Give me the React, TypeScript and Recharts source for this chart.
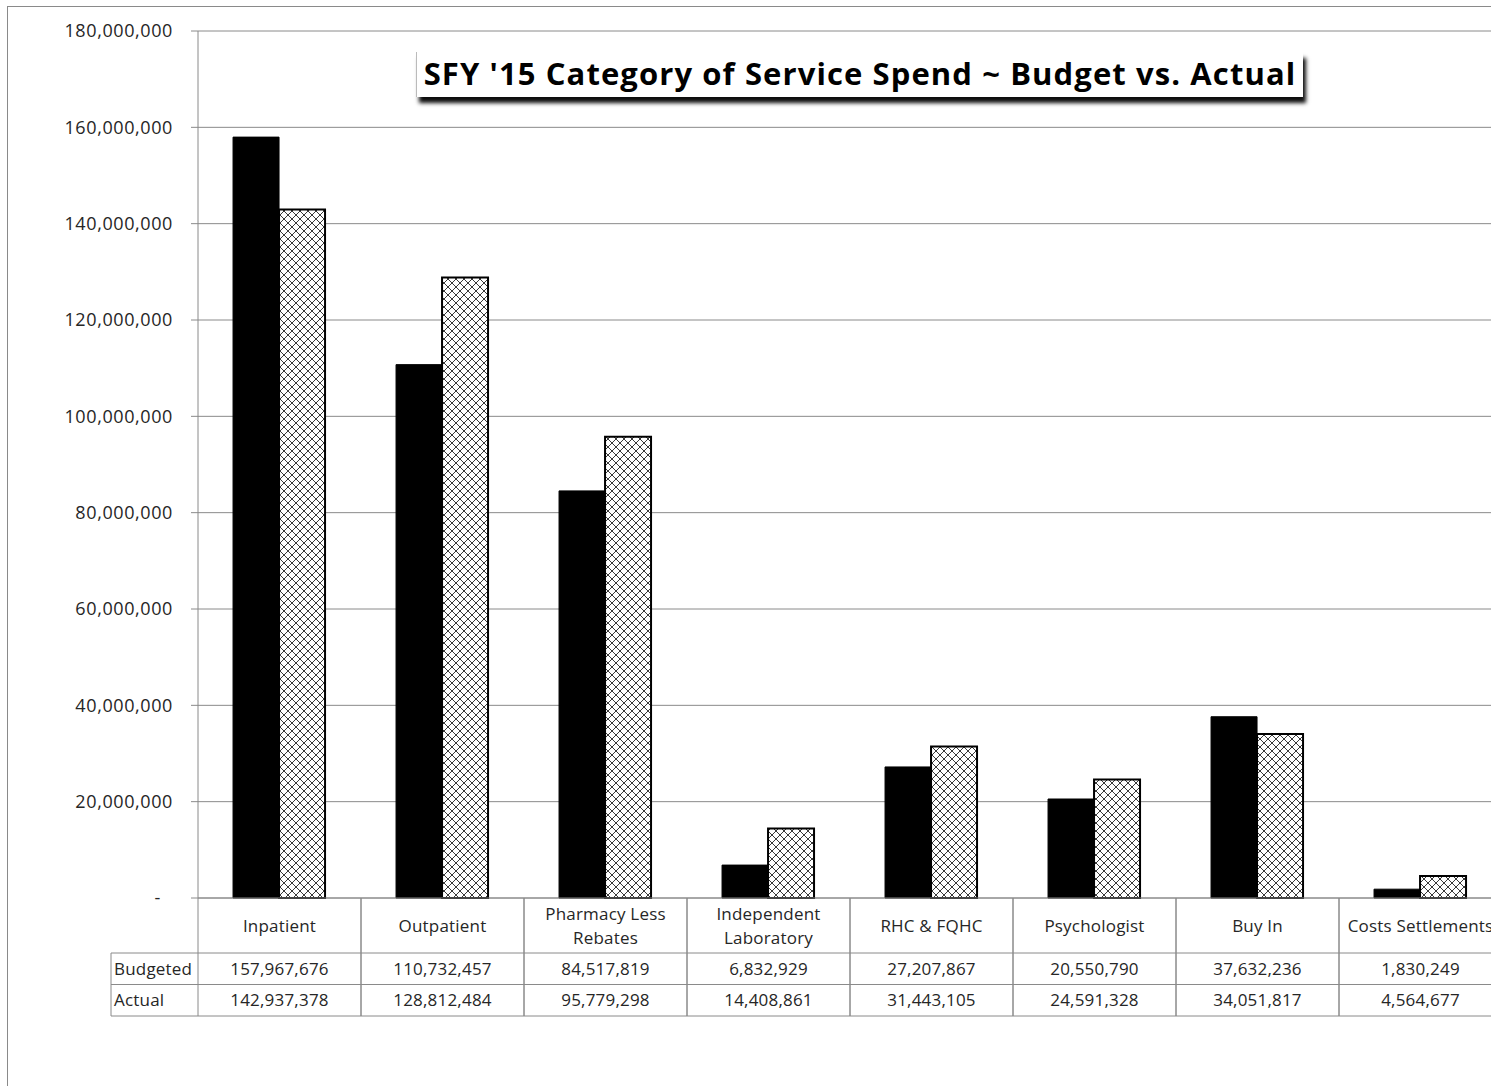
import { Bar, BarChart, CartesianGrid, XAxis, YAxis } from "recharts"

const CATEGORIES = [
  "Inpatient",
  "Outpatient",
  "Pharmacy Less Rebates",
  "Independent Laboratory",
  "RHC & FQHC",
  "Psychologist",
  "Buy In",
  "Costs Settlements",
]
const LABEL_LINES = [
  ["Inpatient"],
  ["Outpatient"],
  ["Pharmacy Less", "Rebates"],
  ["Independent", "Laboratory"],
  ["RHC & FQHC"],
  ["Psychologist"],
  ["Buy In"],
  ["Costs Settlements"],
]
const BUDGETED = [157967676, 110732457, 84517819, 6832929, 27207867, 20550790, 37632236, 1830249]
const ACTUAL = [142937378, 128812484, 95779298, 14408861, 31443105, 24591328, 34051817, 4564677]
const Y_TICKS = [0, 20000000, 40000000, 60000000, 80000000, 100000000, 120000000, 140000000, 160000000, 180000000]
const ROW_LABELS = ["Budgeted", "Actual"]
const TITLE = "SFY '15 Category of Service Spend ~ Budget vs. Actual"

const FONT = "'Open Sans', Lato, sans-serif"
const GRID = "#8a8a8a"
const PLOT_W = 1304
const CELL_W = PLOT_W / CATEGORIES.length
const HEAD_H = 55
const ROW_H = 31.5

const data = CATEGORIES.map((name, i) => ({
  name,
  Budgeted: BUDGETED[i],
  Actual: ACTUAL[i],
}))

const fmt = (v: number) => v.toLocaleString("en-US")

function YTick({ x, y, payload }: any) {
  const v = payload.value as number
  return (
    <text
      x={v === 0 ? x - 12 : x}
      y={y}
      dy="0.36em"
      textAnchor="end"
      fontSize={18}
      letterSpacing={0.6}
      fill="#262626"
      fontFamily={FONT}
    >
      {v === 0 ? "-" : fmt(v)}
    </text>
  )
}

function TableTick({ x, y, index }: any) {
  const left = x - CELL_W / 2
  const right = x + CELL_W / 2
  const lines = LABEL_LINES[index]
  const headMid = y + HEAD_H / 2
  const vals = [BUDGETED[index], ACTUAL[index]]
  return (
    <g fontFamily={FONT} fontSize={17} letterSpacing={0.2} fill="#262626">
      <line x1={left} y1={y} x2={left} y2={y + HEAD_H + 2 * ROW_H} stroke={GRID} />
      <line x1={right} y1={y} x2={right} y2={y + HEAD_H + 2 * ROW_H} stroke={GRID} />
      {[0, 1, 2].map((r) => (
        <line
          key={r}
          x1={left}
          x2={right}
          y1={y + HEAD_H + r * ROW_H}
          y2={y + HEAD_H + r * ROW_H}
          stroke={GRID}
        />
      ))}
      {lines.map((l, k) => (
        <text
          key={l}
          x={x}
          y={headMid + (k - (lines.length - 1) / 2) * 24}
          dy="0.36em"
          textAnchor="middle"
        >
          {l}
        </text>
      ))}
      {vals.map((v, r) => (
        <text key={r} x={x} y={y + HEAD_H + r * ROW_H + ROW_H / 2} dy="0.36em" textAnchor="middle">
          {fmt(v)}
        </text>
      ))}
      {index === 0 && (
        <g>
          <line x1={left - 87} x2={left} y1={y + HEAD_H} y2={y + HEAD_H} stroke={GRID} />
          <line x1={left - 87} x2={left} y1={y + HEAD_H + ROW_H} y2={y + HEAD_H + ROW_H} stroke={GRID} />
          <line x1={left - 87} x2={left} y1={y + HEAD_H + 2 * ROW_H} y2={y + HEAD_H + 2 * ROW_H} stroke={GRID} />
          <line x1={left - 87} x2={left - 87} y1={y + HEAD_H} y2={y + HEAD_H + 2 * ROW_H} stroke={GRID} />
          {ROW_LABELS.map((l, r) => (
            <text key={l} x={left - 84} y={y + HEAD_H + r * ROW_H + ROW_H / 2} dy="0.36em">
              {l}
            </text>
          ))}
        </g>
      )}
    </g>
  )
}

export default function App() {
  return (
    <div
      style={{
        position: "fixed",
        left: 7,
        top: 6,
        width: 1484,
        height: 1080,
        overflow: "hidden",
        borderTop: `1px solid ${GRID}`,
        borderLeft: `1px solid ${GRID}`,
        background: "#fff",
      }}
    >
      <BarChart
        width={1500}
        height={1021}
        data={data}
        margin={{ top: 24, right: 6, bottom: 0, left: 0 }}
        barCategoryGap="21.5%"
        barGap={0}
      >
        <defs>
          <pattern id="cross" width={8} height={8} patternUnits="userSpaceOnUse">
            <rect width={8} height={8} fill="#fff" />
            <path d="M0,0 L8,8 M8,0 L0,8" stroke="#3a3a3a" strokeWidth={1} />
          </pattern>
        </defs>
        <CartesianGrid vertical={false} stroke={GRID} />
        <XAxis
          dataKey="name"
          height={130}
          interval={0}
          tickLine={false}
          tickSize={0}
          tickMargin={0}
          axisLine={{ stroke: GRID }}
          tick={<TableTick />}
        />
        <YAxis
          width={190}
          domain={[0, 180000000]}
          ticks={Y_TICKS}
          tickSize={7}
          tickMargin={18}
          tickLine={{ stroke: GRID }}
          axisLine={{ stroke: GRID }}
          tick={<YTick />}
        />
        <Bar dataKey="Budgeted" fill="#000" stroke="#000" strokeWidth={1} isAnimationActive={false} />
        <Bar dataKey="Actual" fill="url(#cross)" stroke="#000" strokeWidth={2} isAnimationActive={false} />
      </BarChart>
      <div
        style={{
          position: "absolute",
          left: 408,
          top: 45,
          width: 887,
          height: 45,
          paddingBottom: 4,
          boxSizing: "border-box",
          background: "#fff",
          borderLeft: "1px solid #bbb",
          boxShadow: "3px 6px 4px rgba(0,0,0,0.95)",
          fontFamily: FONT,
          fontWeight: 700,
          fontSize: 31,
          letterSpacing: 1.1,
          color: "#000",
          display: "flex",
          alignItems: "center",
          justifyContent: "center",
          whiteSpace: "nowrap",
        }}
      >
        {TITLE}
      </div>
    </div>
  )
}
